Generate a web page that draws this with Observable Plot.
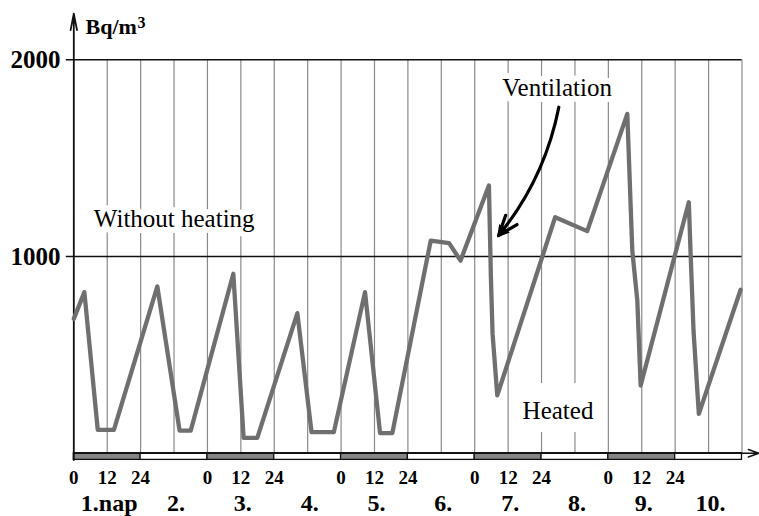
<!DOCTYPE html>
<html><head><meta charset="utf-8">
<script src="https://cdn.jsdelivr.net/npm/d3@7"></script>
<script src="https://cdn.jsdelivr.net/npm/@observablehq/plot@0.6"></script>
<style>body{margin:0;background:#fff} svg{display:block}</style>
</head><body><div id="chart"></div>
<script>
// Radon concentration (Bq/m3) over ten days, time in hours from start
const hours = [0, 3.8, 8.6, 14.4, 30, 38, 42, 57.3, 61, 65.9, 80.3, 85.4, 93.4, 104.6, 110, 114.4,
  128.2, 134.8, 138.9, 149.1, 149.8, 150.4, 152.1, 172.9, 184.4, 198.8, 200.6, 202.4, 203.6,
  220.9, 221.5, 222.6, 224.5, 239.5];
const radon = [683, 819, 119, 119, 848, 115, 115, 912, 78, 78, 712, 107, 107, 819, 102, 102,
  1081, 1068, 979, 1361, 900, 609, 294, 1200, 1129, 1725, 1030, 776, 344,
  1276, 1030, 620, 200, 831];
const dayLabels = ["1.nap", "2.", "3.", "4.", "5.", "6.", "7.", "8.", "9.", "10."];
const hourTickLabels = [0, 12, 24];
const labelledDays = [0, 2, 4, 6, 8];
const yTicks = [1000, 2000];
const gridHours = d3.range(12, 241, 12);

// annotations (data units)
const notes = [
  {x: 7.2, y: 1149, text: "Without heating"},
  {x: 153.9, y: 1818, text: "Ventilation"}
];
const heatedNote = [{x: 161.2, y: 175, text: "Heated"}];
const heatedBox = [{x1: 158.7, x2: 188.1, y1: 105, y2: 354}];
const ventArrow = [{x1: 174.2, y1: 1759, x2: 152.6, y2: 1107}];
const ventHead = [{x: 153.8, y: 1128}];

const rows = hours.map((h, i) => ({h, v: radon[i]}));
const dayIdx = d3.range(dayLabels.length);
const hourLabels = labelledDays.flatMap(d => hourTickLabels.map(h => ({x: d * 24 + h, text: String(h)})));

const chart = Plot.plot({
  width: 759, height: 516,
  marginLeft: 73.3, marginRight: 17.5, marginTop: 59.3, marginBottom: 63.3,
  x: {domain: [0, 240], axis: null},
  y: {domain: [0, 2000], axis: null},
  style: {fontFamily: "'Liberation Serif', 'DejaVu Serif', serif", background: "white", color: "black"},
  marks: [
    Plot.ruleX(gridHours, {x: d => d, y1: () => 0, y2: () => 2000, stroke: "#8a8a8a", strokeWidth: 1.2}),
    Plot.rect(heatedBox, {x1: "x1", x2: "x2", y1: "y1", y2: "y2", fill: "white"}),
    Plot.text(notes, {x: "x", y: "y", text: "text", textAnchor: "start", lineAnchor: "bottom",
      fontSize: 25, fill: "black", stroke: "white", strokeWidth: 12}),
    Plot.text(heatedNote, {x: "x", y: "y", text: "text", textAnchor: "start", lineAnchor: "bottom",
      fontSize: 25, fill: "black"}),
    Plot.ruleY(yTicks, {y: d => d, x1: () => -2.7, x2: () => 240, stroke: "#111", strokeWidth: 1.5}),
    Plot.rect(dayIdx, {x1: i => i * 24, x2: i => (i + 1) * 24, y1: () => 0, y2: () => -34,
      fill: i => i % 2 === 0 ? "#858585" : "white", stroke: "#111", strokeWidth: 1.3}),
    Plot.arrow([0], {x1: () => 0, x2: () => 246, y1: () => 0, y2: () => 0, stroke: "#111",
      strokeWidth: 1.5, headLength: 11, headAngle: 40}),
    Plot.arrow([0], {x1: () => 0, x2: () => 0, y1: () => -35, y2: () => 2235, stroke: "#111",
      strokeWidth: 1.8, headLength: 14, headAngle: 22}),
    Plot.line(rows, {x: "h", y: "v", stroke: "#6f6f6f", strokeWidth: 4.3}),
    Plot.arrow(ventArrow, {x1: "x1", y1: "y1", x2: "x2", y2: "y2", bend: 14, stroke: "black",
      strokeWidth: 3.2, headLength: 10, headAngle: 40}),
    Plot.dot(ventHead, {x: "x", y: "y", symbol: "triangle2", r: 6.5, fill: "black", rotate: 219}),
    Plot.text(yTicks, {x: () => -4.8, y: d => d, text: d => String(d), textAnchor: "end",
      lineAnchor: "middle", fontSize: 25, fontWeight: "bold", fill: "black"}),
    Plot.text(hourLabels, {x: "x", y: () => -156, text: "text", textAnchor: "middle",
      lineAnchor: "bottom", fontSize: 19, fontWeight: "bold", fill: "black"}),
    Plot.text(dayIdx, {x: i => i * 24 + 12, y: () => -296, text: i => dayLabels[i], dx: 2,
      textAnchor: "middle", lineAnchor: "bottom", fontSize: 24, fontWeight: "bold", fill: "black"}),
    Plot.text(["Bq/m"], {x: () => 4.2, y: () => 2132, text: d => d, textAnchor: "start",
      lineAnchor: "bottom", fontSize: 22, fontWeight: "bold", fill: "black"}),
    Plot.text(["3"], {x: () => 22.9, y: () => 2164, text: d => d, textAnchor: "start",
      lineAnchor: "bottom", fontSize: 16, fontWeight: "bold", fill: "black"})
  ]
});
document.getElementById("chart").appendChild(chart);
</script>
</body></html>
